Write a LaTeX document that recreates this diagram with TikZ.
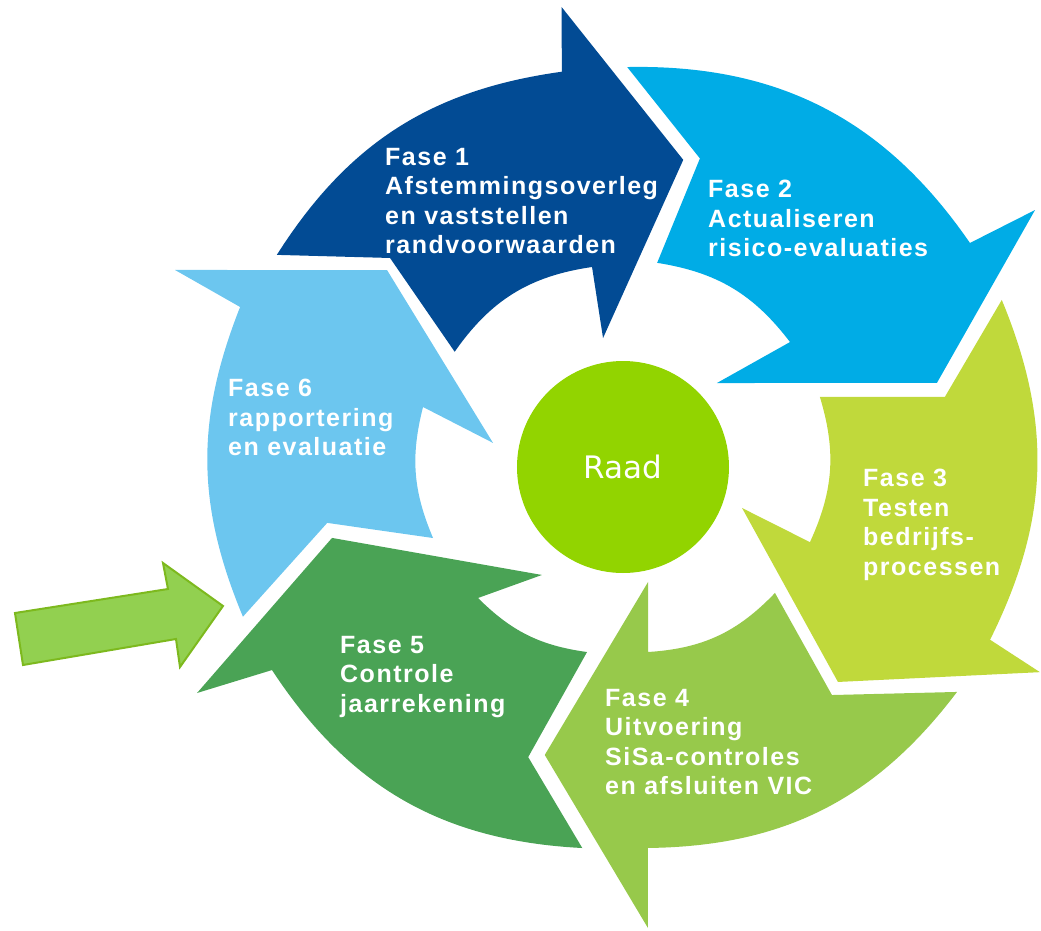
\documentclass[tikz,border=0pt]{standalone}
\usepackage{fontspec}
\setmainfont{Liberation Sans}
\newfontfamily\fasefont[LetterSpace=6]{Liberation Sans}
\newfontfamily\raadfont{DejaVu Sans}
\usepackage{xcolor}
\usepackage{tikz}
\definecolor{fase1blue}{HTML}{024B94}
\definecolor{fase2blue}{HTML}{00ACE6}
\definecolor{fase3lime}{HTML}{C0D93B}
\definecolor{fase4green}{HTML}{97C94B}
\definecolor{fase5green}{HTML}{4AA355}
\definecolor{fase6blue}{HTML}{6CC6EF}
\definecolor{raadgreen}{HTML}{92D400}
\definecolor{startfill}{HTML}{92D050}
\definecolor{startdraw}{HTML}{7DB91E}
\tikzset{
    fase_text/.style = {align=left, anchor=north west, inner sep=0pt, text=white, font=\fasefont\bfseries\fontsize{25}{29.5}\selectfont},
    raad_node/.style = {circle, fill=raadgreen, minimum size=212pt, inner sep=0pt, text=white, font=\raadfont\fontsize{31}{36}\selectfont},
    start_arrow/.style = {fill=startfill, draw=startdraw, line width=2pt, line join=miter}
}

\begin{document}
\begin{tikzpicture}[x=1pt, y=1pt]
    \useasboundingbox (-623,-463) rectangle (418,467);
    % de zes fases rond het midden
    \fill[fase1blue] (148.5:406) -- (138.1:313) -- (145.6:204) to[bend left=23.4] (98.8:202.4)
        -- (98.8:130.5) -- (78.9:313) -- (97.6:464) -- (98.8:400) to[bend right=24.85] (148.5:406) -- cycle;
    \fill[fase2blue] (89.4:400) -- (76.0:318) -- (80.5:207) to[bend left=21.85] (36.8:208.6)
        -- (41.8:126) -- (15.0:325) -- (31.95:485.6) -- (32.85:413) to[bend right=28.3] (89.4:400) -- cycle;
    \fill[fase3lime] (23.8:414) -- (12.3:329.5) -- (19.6:209) to[bend left=20.75] (-21.9:201.5)
        -- (-19.0:125.9) -- (-45:304) -- (-26.2:464.7) -- (-25.2:405.7) to[bend right=24.5] (23.8:414) -- cycle;
    \fill[fase4green] (-33.96:402.7) -- (-47.5:309.3) -- (-39.65:197.4) to[bend left=21.3] (-82.3:186.7)
        -- (-77.7:117.7) -- (-105.2:298.4) -- (-86.9:461.7) -- (-86.25:381.8) to[bend right=26.1] (-33.96:402.7) -- cycle;
    \fill[fase5green] (-96.1:383.2) -- (-108.1:305.2) -- (-101:188.5) to[bend left=18.45] (-137.9:195.4)
        -- (-126.9:135) -- (-166.3:299.5) -- (-152.05:482.2) -- (-149.95:405.5) to[bend right=26.9] (-96.1:383.2) -- cycle;
    \fill[fase6blue] (201.5:408.5) -- (190.7:301) -- (200.5:202.8) to[bend left=18.6] (163.3:208.8)
        -- (169.5:132.2) -- (140.15:307.4) -- (156.26:489.4) -- (157.32:415) to[bend right=22.1] (201.5:408.5) -- cycle;
    % startpijl
    \filldraw[start_arrow] (-608,-146) -- (-455,-122) -- (-460,-96) -- (-400,-139) -- (-443,-200) -- (-447,-172) -- (-600,-198) -- cycle;
    \node[raad_node] (raad) at (0,0) {Raad};
    \node[fase_text] (fase1) at (-238,319) {Fase 1\\Afstemmingsoverleg\\en vaststellen\\randvoorwaarden};
    \node[fase_text] (fase2) at (85,287) {Fase 2\\Actualiseren\\risico-evaluaties};
    \node[fase_text] (fase3) at (240,-2) {Fase 3\\Testen\\bedrijfs-\\processen};
    \node[fase_text] (fase4) at (-18,-222) {Fase 4\\Uitvoering\\SiSa-controles\\en afsluiten VIC};
    \node[fase_text] (fase5) at (-283,-169) {Fase 5\\Controle\\jaarrekening};
    \node[fase_text] (fase6) at (-395,88) {Fase 6\\rapportering\\en evaluatie};
\end{tikzpicture}
\end{document}
